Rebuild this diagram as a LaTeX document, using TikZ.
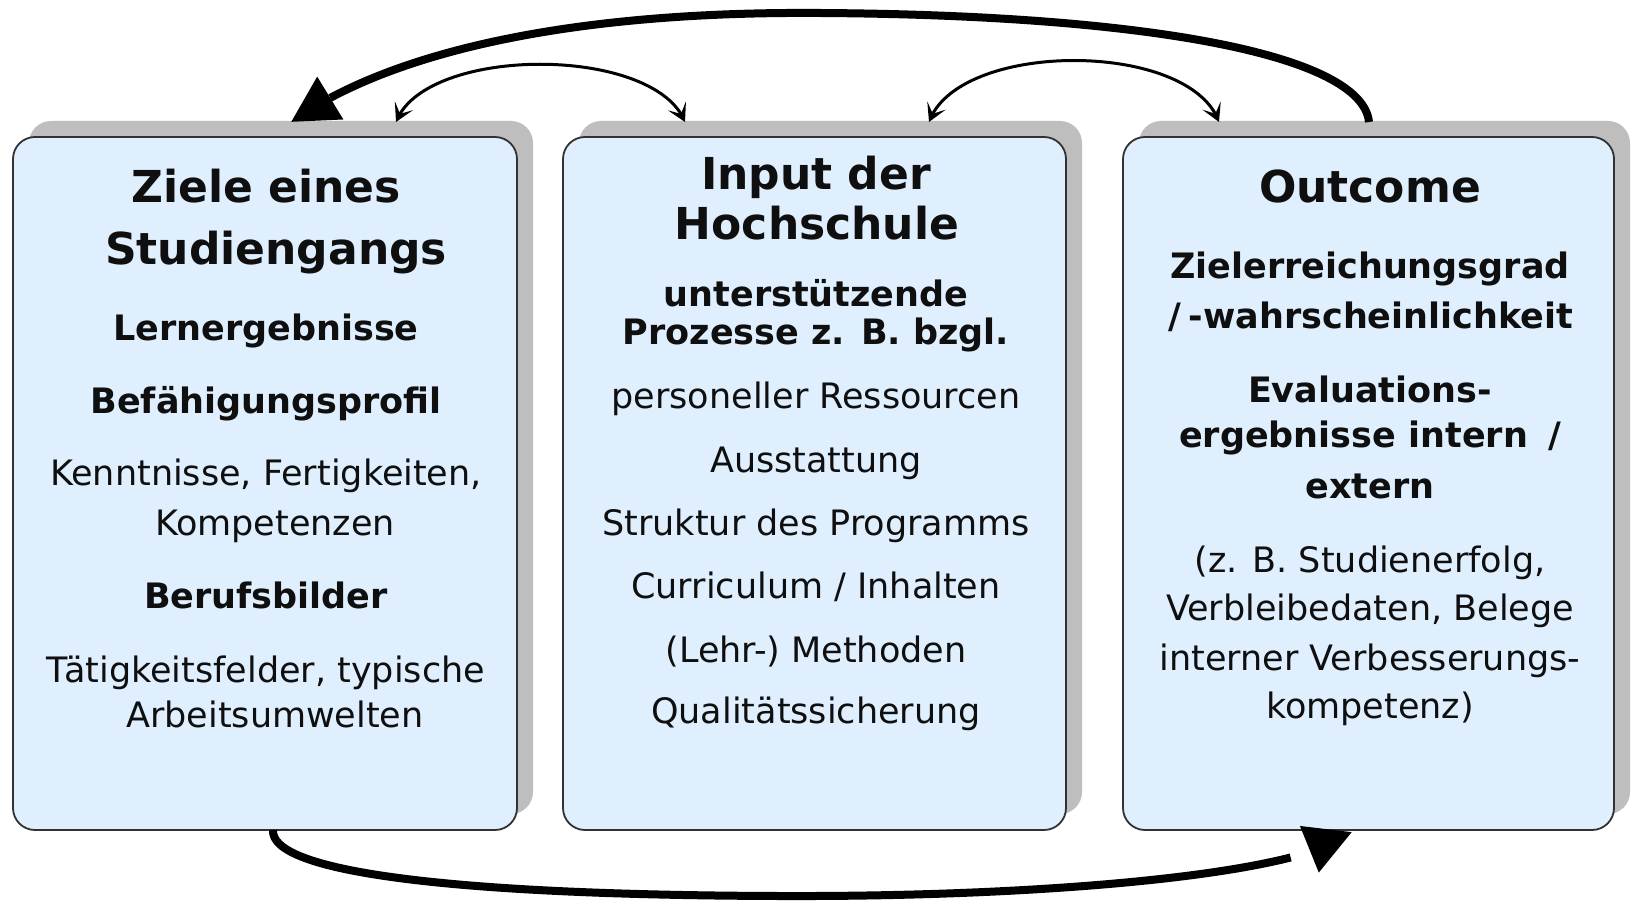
\documentclass[tikz,border=0pt]{standalone}
\usepackage{fontspec}
\setmainfont{DejaVu Sans}
\usetikzlibrary{arrows.meta,bending}
\definecolor{boxfill}{RGB}{223,239,254}
\definecolor{boxborder}{RGB}{50,50,50}
\definecolor{shadowgray}{RGB}{190,190,190}
\definecolor{txt}{RGB}{15,15,15}
\tikzset{
  shadowbox/.style={fill=shadowgray, rounded corners=22pt, inner sep=0pt, minimum height=693pt},
  mainbox/.style={draw=boxborder, line width=1.8pt, fill=boxfill, rounded corners=22pt, inner sep=0pt, minimum height=693pt},
  ttl/.style={font=\fontsize{44}{50}\selectfont\bfseries, text=txt, inner sep=0pt, anchor=base},
  bb/.style={font=\fontsize{35}{40}\selectfont\bfseries, text=txt, inner sep=0pt, anchor=base},
  rb/.style={font=\fontsize{35}{40}\selectfont, text=txt, inner sep=0pt, anchor=base},
  bigarrow/.style={line width=8pt, -{Triangle[length=46pt,width=48pt]}},
  smallarrow/.style={line width=3pt, {Stealth[length=18pt,width=20pt,inset=9pt]}-{Stealth[length=18pt,width=20pt,inset=9pt]}}
}
\begin{document}
\begin{tikzpicture}[x=1pt,y=-1pt]
\useasboundingbox (0,0) rectangle (1632,901);
\fill[white] (0,0) rectangle (1632,901);
% shadows
\node[shadowbox, minimum width=504pt] (sh1) at (281,467.5) {};
\node[shadowbox, minimum width=503pt] (sh2) at (830.5,467.5) {};
\node[shadowbox, minimum width=491pt] (sh3) at (1384.5,467.5) {};
% boxes
\node[mainbox, minimum width=504pt] (b1) at (265,483.5) {};
\node[mainbox, minimum width=503pt] (b2) at (814.5,483.5) {};
\node[mainbox, minimum width=491pt] (b3) at (1368.5,483.5) {};
% box 1 text
\node[ttl] (z1) at (266,203) {Ziele eines};
\node[ttl] (z2) at (276,265) {Studiengangs};
\node[bb] (z3) at (266,340) {Lernergebnisse};
\node[bb] (z4) at (266,413) {Befähigungsprofil};
\node[rb] (z5) at (266,485) {Kenntnisse, Fertigkeiten,};
\node[rb] (z6) at (275,535) {Kompetenzen};
\node[bb] (z7) at (266,608) {Berufsbilder};
\node[rb] (z8) at (266,682) {Tätigkeitsfelder, typische};
\node[rb] (z9) at (275,727) {Arbeitsumwelten};
% box 2 text
\node[ttl] (i1) at (816,190) {Input der};
\node[ttl] (i2) at (817,240) {Hochschule};
\node[bb] (i3) at (816,306) {unterstützende};
\node[bb] (i4) at (816,344) {Prozesse z. B. bzgl.};
\node[rb] (i5) at (816,408) {personeller Ressourcen};
\node[rb] (i6) at (816,472) {Ausstattung};
\node[rb] (i7) at (816,535) {Struktur des Programms};
\node[rb] (i8) at (816,598) {Curriculum / Inhalten};
\node[rb] (i9) at (816,662) {(Lehr-) Methoden};
\node[rb] (i10) at (816,723) {Qualitätssicherung};
% box 3 text
\node[ttl] (o1) at (1370,203) {Outcome};
\node[bb] (o2) at (1370,278) {Zielerreichungsgrad};
\node[bb] (o3) at (1371,328) {/\hspace{7pt}-wahrscheinlichkeit};
\node[bb] (o4) at (1370,402) {Evaluations-};
\node[bb] (o5) at (1370,447) {ergebnisse intern\hspace{8pt} /};
\node[bb] (o6) at (1370,498) {extern};
\node[rb] (o7) at (1370,572) {(z. B. Studienerfolg,};
\node[rb] (o8) at (1370,620) {Verbleibedaten, Belege};
\node[rb] (o9) at (1370,670) {interner Verbesserungs-};
\node[rb] (o10) at (1370,718) {kompetenz)};
% connector end points
\coordinate (topR) at (1369,122);
\coordinate (topL) at (291,122);
\coordinate (botL) at (273,830);
\coordinate (botR) at (1352,832);
\coordinate (s1a) at (396,122);
\coordinate (s1b) at (685,122);
\coordinate (s2a) at (929,122);
\coordinate (s2b) at (1219,122);
% arrows
\draw[bigarrow] (topR) .. controls (1362,55) and (1150,15) .. (820,13) .. controls (560,11) and (385,55) .. (topL);
\draw[bigarrow] (botL) .. controls (270,872) and (450,895) .. (780,896) .. controls (1050,897) and (1305,874) .. (botR);
\draw[smallarrow] (s1a) .. controls (425,45) and (655,45) .. (s1b);
\draw[smallarrow] (s2a) .. controls (958,40) and (1190,40) .. (s2b);
\end{tikzpicture}
\end{document}
